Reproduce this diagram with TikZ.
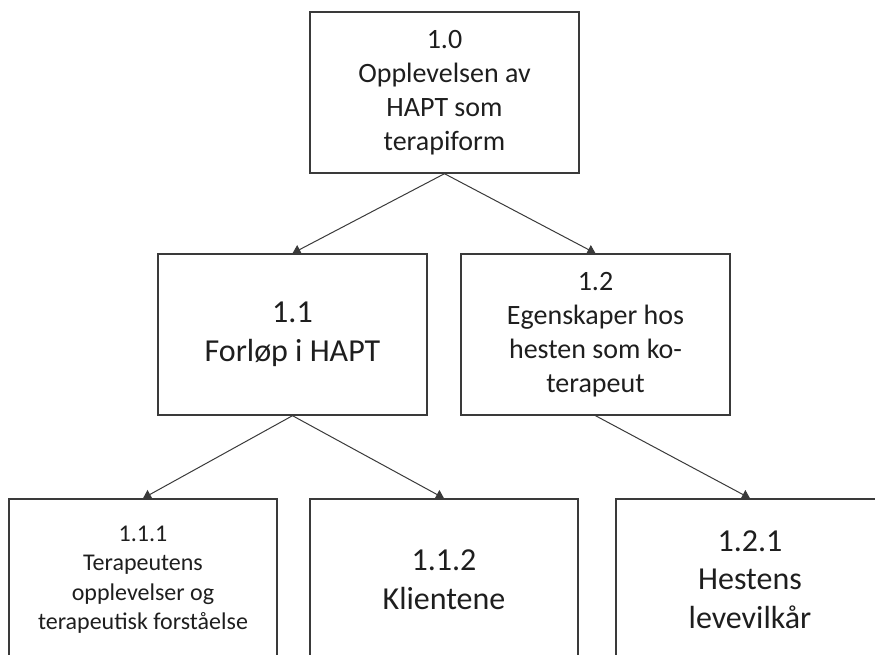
\documentclass[tikz,border=0pt]{standalone}
\usepackage{fontspec}
\setmainfont{Carlito}
\usetikzlibrary{arrows.meta}
\definecolor{edgegray}{HTML}{3A3A3A}
\definecolor{txtgray}{HTML}{1E1E1E}
\tikzset{
  topic/.style={draw=edgegray, line width=1.4pt, minimum width=269pt,
    minimum height=161pt, inner sep=0pt, align=center, text=txtgray},
  bigtxt/.style={font=\fontsize{32}{38.5}\selectfont},
  midtxt/.style={font=\fontsize{28}{34}\selectfont},
  smalltxt/.style={font=\fontsize{24}{29.5}\selectfont},
  link/.style={draw=edgegray, line width=1pt, -{Triangle[length=8pt,width=10pt]}},
}

\begin{document}
\begin{tikzpicture}[x=1pt, y=-1pt]
  \useasboundingbox (0,0) rectangle (875,655);
  \clip (0,0) rectangle (875,655);
  % main theme
  \node[topic, midtxt] (t10) at (444.5,92.5) {1.0\\Opplevelsen av\\HAPT som\\terapiform};
  % themes
  \node[topic, bigtxt] (t11) at (292.5,334.5) {1.1\\Forløp i HAPT};
  \node[topic, midtxt] (t12) at (595.5,334.5) {1.2\\Egenskaper hos\\hesten som ko-\\terapeut};
  % sub-themes
  \node[topic, smalltxt, minimum width=268pt] (t111) at (143,579.5)
    {1.1.1\\Terapeutens\\opplevelser og\\terapeutisk forståelse};
  \node[topic, bigtxt, minimum width=268pt] (t112) at (444,579.5) {1.1.2\\Klientene};
  \node[topic, bigtxt, minimum width=268pt] (t121) at (750,579.5) {1.2.1\\Hestens\\levevilkår};
  % links
  \draw[link] (t10.south) -- (t11.north);
  \draw[link] (t10.south) -- (t12.north);
  \draw[link] (t11.south) -- (t111.north);
  \draw[link] (t11.south) -- (t112.north);
  \draw[link] (t12.south) -- (t121.north);
\end{tikzpicture}
\end{document}
